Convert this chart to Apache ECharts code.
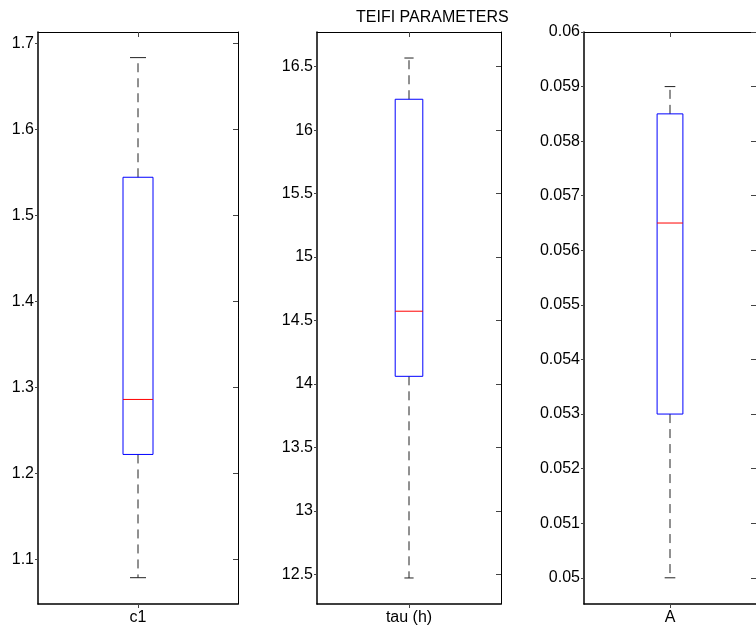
<!DOCTYPE html>
<html><head><meta charset="utf-8">
<script src="https://cdn.jsdelivr.net/npm/echarts@6/dist/echarts.min.js"></script>
<style>html,body{margin:0;padding:0;background:#fff}#c{width:756px;height:627px}</style>
</head><body><div id="c"></div>
<script>
// ---- data ----
const titleText = 'TEIFI PARAMETERS';
const categories = ['c1', 'tau (h)', 'A'];
// [lower whisker, Q1, median, Q3, upper whisker]
const c1Stats  = [1.0786, 1.222, 1.286, 1.5445, 1.6837];
const tauStats = [12.471, 14.06, 14.573, 16.243, 16.568];
const aStats   = [0.050, 0.053, 0.0565, 0.0585, 0.059];
// axis ranges
const c1Range  = [1.048, 1.7135];
const tauRange = [12.266, 16.773];
const aRange   = [0.04952, 0.060];
// tick labels
const c1Ticks  = [1.1, 1.2, 1.3, 1.4, 1.5, 1.6, 1.7];
const tauTicks = [12.5, 13, 13.5, 14, 14.5, 15, 15.5, 16, 16.5];
const aTicks   = [0.05, 0.051, 0.052, 0.053, 0.054, 0.055, 0.056, 0.057, 0.058, 0.059, 0.06];

const statsList = [c1Stats, tauStats, aStats];
const rangeList = [c1Range, tauRange, aRange];
const tickList  = [c1Ticks, tauTicks, aTicks];

// ---- layout / style ----
const FONT = "'Liberation Sans', Arial, Helvetica, sans-serif";
const grids = [
  {left: 38, top: 32, width: 200, height: 572},
  {left: 317, top: 32, width: 184, height: 572},
  {left: 584, top: 32, width: 178, height: 572}
];
const capFrac = [0.08, 0.05, 0.062];

function makeRender(capF) {
  return function (params, api) {
    const xi = api.value(0);
    const y = v => api.coord([xi, v])[1];
    const cx = api.coord([xi, api.value(2)])[0];
    const band = api.size([1, 0])[0];
    const hb = band * 0.15 / 2;
    const hc = band * capF / 2;
    const lo = y(api.value(1)), q1 = y(api.value(2)), med = y(api.value(3)),
          q3 = y(api.value(4)), hi = y(api.value(5));
    const dash = {stroke: '#222', lineWidth: 1, lineDash: [9, 6]};
    const solid = {stroke: '#222', lineWidth: 1};
    return {
      type: 'group',
      children: [
        {type: 'line', shape: {x1: cx, y1: q3, x2: cx, y2: hi}, style: dash},
        {type: 'line', shape: {x1: cx, y1: q1, x2: cx, y2: lo}, style: dash},
        {type: 'line', shape: {x1: cx - hc, y1: hi, x2: cx + hc, y2: hi}, style: solid},
        {type: 'line', shape: {x1: cx - hc, y1: lo, x2: cx + hc, y2: lo}, style: solid},
        {type: 'rect', shape: {x: cx - hb, y: q3, width: 2 * hb, height: q1 - q3},
          style: {fill: 'none', stroke: '#0000ff', lineWidth: 1}},
        {type: 'line', shape: {x1: cx - hb, y1: med, x2: cx + hb, y2: med},
          style: {stroke: '#ff0000', lineWidth: 1}}
      ]
    };
  };
}

const xAxis = [], yAxis = [], series = [];
categories.forEach((cat, i) => {
  xAxis.push({
    type: 'category', gridIndex: i, data: [cat], position: 'bottom',
    axisLine: {lineStyle: {color: '#000', width: 1.5}},
    axisTick: {show: true, alignWithLabel: true, inside: false, length: 4, lineStyle: {color: '#444'}},
    axisLabel: {color: '#000', fontSize: 16, fontFamily: FONT, margin: 6},
    splitLine: {show: false}
  });
  xAxis.push({
    type: 'category', gridIndex: i, data: [cat], position: 'top',
    axisLine: {lineStyle: {color: '#000', width: 1}},
    axisTick: {show: true, alignWithLabel: true, inside: true, length: 5, lineStyle: {color: '#444'}},
    axisLabel: {show: false}, splitLine: {show: false}
  });
  yAxis.push({
    type: 'value', gridIndex: i, position: 'left',
    min: rangeList[i][0], max: rangeList[i][1],
    axisLine: {show: true, lineStyle: {color: '#000', width: 1.5}},
    axisTick: {show: true, inside: false, length: 3, customValues: tickList[i], lineStyle: {color: '#444'}},
    axisLabel: {color: '#000', fontSize: 16, fontFamily: FONT, margin: 4, customValues: tickList[i]},
    splitLine: {show: false}
  });
  yAxis.push({
    type: 'value', gridIndex: i, position: 'right',
    min: rangeList[i][0], max: rangeList[i][1],
    axisLine: {show: true, lineStyle: {color: '#000', width: 1}},
    axisTick: {show: true, inside: true, length: 5, customValues: tickList[i], lineStyle: {color: '#444'}},
    axisLabel: {show: false}, splitLine: {show: false}
  });
  const s = statsList[i];
  series.push({
    type: 'custom', xAxisIndex: 2 * i, yAxisIndex: 2 * i,
    renderItem: makeRender(capFrac[i]),
    encode: {x: 0, y: [1, 2, 3, 4, 5]},
    data: [[0, s[0], s[1], s[2], s[3], s[4]]],
    silent: true, clip: false
  });
});

const chart = echarts.init(document.getElementById('c'), null, {renderer: 'canvas'});
chart.setOption({
  animation: false,
  backgroundColor: '#fff',
  title: {text: titleText, left: 356, top: 10, padding: 0,
    textStyle: {fontSize: 16, fontWeight: 'normal', color: '#000', fontFamily: FONT}},
  grid: grids,
  xAxis: xAxis,
  yAxis: yAxis,
  series: series
});
</script>
</body></html>
